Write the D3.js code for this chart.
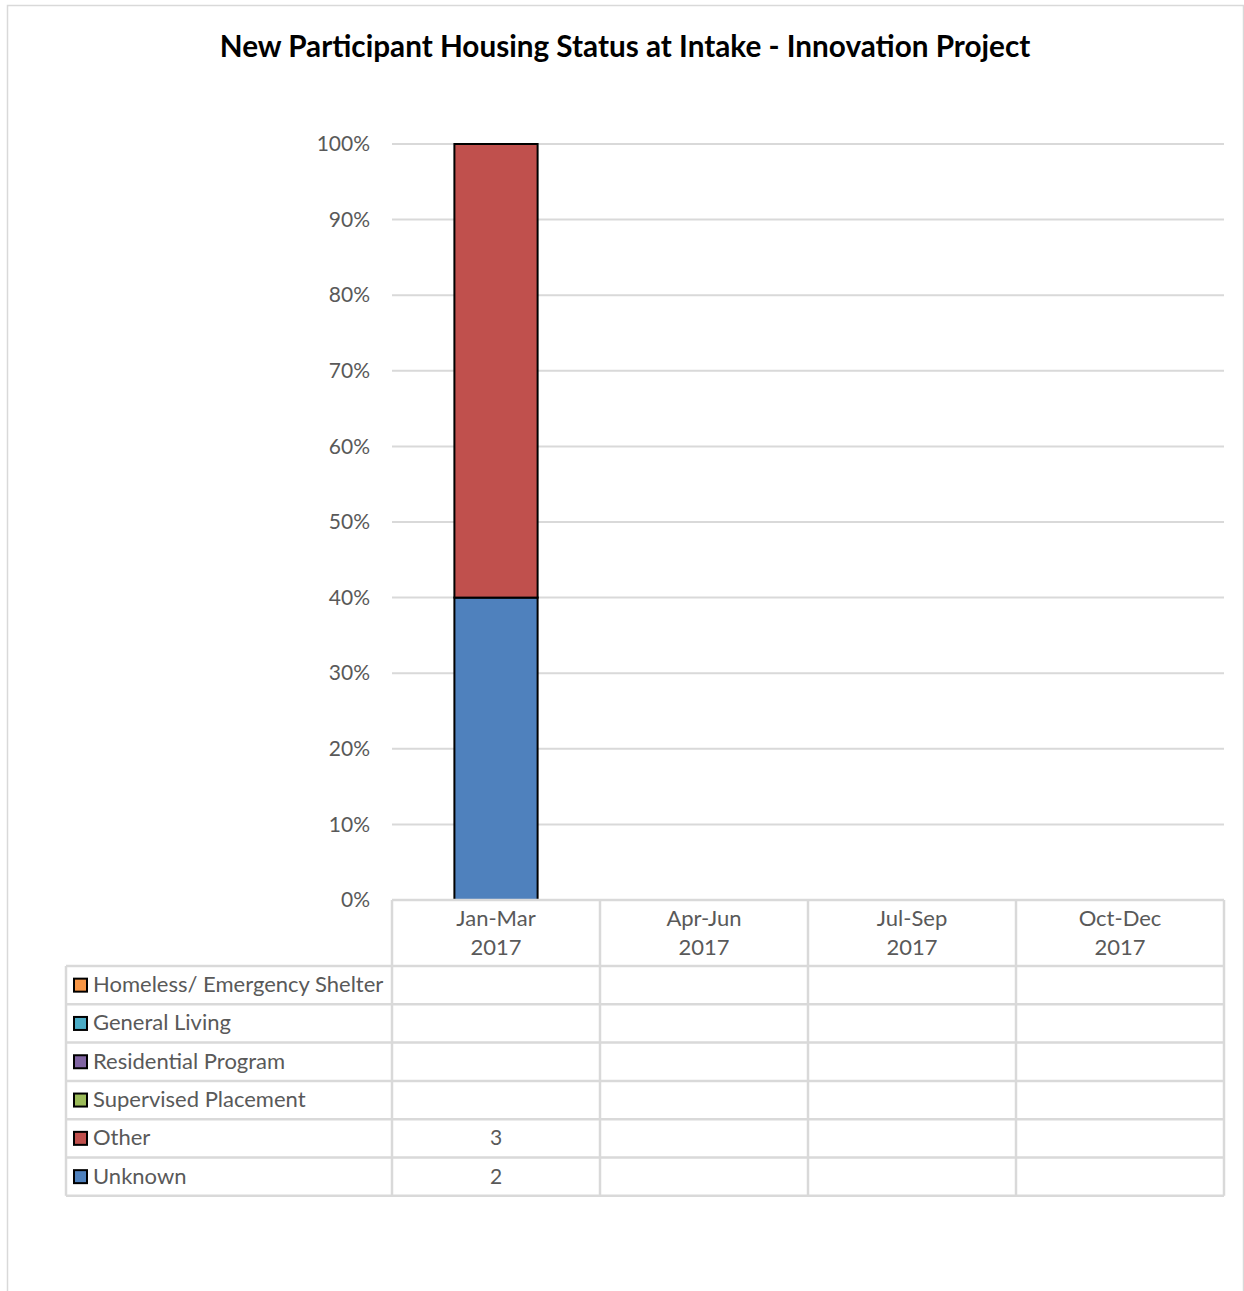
<!DOCTYPE html>
<html>
<head>
    <script src="https://cdn.jsdelivr.net/npm/d3@7"></script>
    <style>
        body { margin: 0; background: #fff; }
        svg { font-family: Lato, "Open Sans", sans-serif; }
    </style>
</head>
<body>
<svg width="1244" height="1291"></svg>
<script>
    // chart values
    const quarters = ["Jan-Mar 2017", "Apr-Jun 2017", "Jul-Sep 2017", "Oct-Dec 2017"];
    const seriesNames = ["Homeless/ Emergency Shelter", "General Living", "Residential Program", "Supervised Placement", "Other", "Unknown"];
    const seriesColors = ["#F79646", "#4BACC6", "#8064A2", "#9BBB59", "#C0504D", "#4F81BD"];
    const homeless = [null, null, null, null];
    const generalLiving = [null, null, null, null];
    const residential = [null, null, null, null];
    const supervised = [null, null, null, null];
    const other = [3, null, null, null];
    const unknown = [2, null, null, null];
    const yTicks = [0, 0.1, 0.2, 0.3, 0.4, 0.5, 0.6, 0.7, 0.8, 0.9, 1];

    const seriesValues = [homeless, generalLiving, residential, supervised, other, unknown];

    const svg = d3.select("svg");

    // outer frame
    svg.append("rect")
        .attr("x", 7.5).attr("y", 5.5)
        .attr("width", 1236).attr("height", 1300)
        .attr("fill", "none").attr("stroke", "#d9d9d9").attr("stroke-width", 1.5);

    svg.append("text")
        .attr("x", 625).attr("y", 57)
        .attr("text-anchor", "middle")
        .attr("font-size", 29.7).attr("font-weight", "bold")
        .attr("fill", "#000")
        .text("New Participant Housing Status at Intake - Innovation Project");

    const plotLeft = 392, plotRight = 1224, plotTop = 144, plotBottom = 900;

    const x = d3.scaleBand().domain(quarters).range([plotLeft, plotRight]).paddingInner(0).paddingOuter(0);
    const y = d3.scaleLinear().domain([0, 1]).range([plotBottom, plotTop]);

    // gridlines
    svg.append("g").selectAll("line")
        .data(yTicks.filter(d => d > 0))
        .join("line")
        .attr("x1", plotLeft).attr("x2", plotRight)
        .attr("y1", d => y(d)).attr("y2", d => y(d))
        .attr("stroke", "#d9d9d9").attr("stroke-width", 2);

    // y axis labels
    const yAxis = d3.axisLeft(y).tickValues(yTicks).tickFormat(d3.format(".0%")).tickSize(0).tickPadding(22);
    const yg = svg.append("g").attr("transform", `translate(${plotLeft},0)`).call(yAxis);
    yg.select(".domain").remove();
    yg.selectAll("text").attr("font-size", 21).attr("fill", "#595959").attr("font-family", "Lato, sans-serif");

    // stacked percent bars, Unknown at the bottom
    const rows = quarters.map((q, i) => {
        const r = { quarter: q };
        seriesNames.forEach((s, j) => r[s] = seriesValues[j][i] || 0);
        return r;
    });
    const stackOrder = seriesNames.slice().reverse();
    const stack = d3.stack().keys(stackOrder).offset(d3.stackOffsetExpand);
    const layers = stack(rows);
    const barW = x.bandwidth() * 0.4;

    layers.forEach(layer => {
        const color = seriesColors[seriesNames.indexOf(layer.key)];
        svg.append("g").selectAll("rect")
            .data(layer.filter(d => !isNaN(d[1]) && d[1] - d[0] > 0))
            .join("rect")
            .attr("x", d => x(d.data.quarter) + (x.bandwidth() - barW) / 2)
            .attr("width", barW)
            .attr("y", d => y(d[1]))
            .attr("height", d => y(d[0]) - y(d[1]))
            .attr("fill", color)
            .attr("stroke", "#000").attr("stroke-width", 2);
    });

    // data table
    const headerTop = 900, headerBottom = 966, rowH = 38.3, tableLeft = 66;
    const tableBottom = headerBottom + rowH * seriesNames.length;
    const grid = svg.append("g").attr("stroke", "#d9d9d9").attr("stroke-width", 2.5).attr("fill", "none");

    // header box lines
    grid.append("line").attr("x1", plotLeft).attr("x2", plotRight).attr("y1", headerTop).attr("y2", headerTop);
    quarters.forEach(q => {
        grid.append("line").attr("x1", x(q)).attr("x2", x(q)).attr("y1", headerTop).attr("y2", tableBottom);
    });
    grid.append("line").attr("x1", plotRight).attr("x2", plotRight).attr("y1", headerTop).attr("y2", tableBottom);
    grid.append("line").attr("x1", tableLeft).attr("x2", tableLeft).attr("y1", headerBottom).attr("y2", tableBottom);
    seriesNames.concat([""]).forEach((s, i) => {
        const yy = headerBottom + rowH * i;
        grid.append("line").attr("x1", tableLeft).attr("x2", plotRight).attr("y1", yy).attr("y2", yy);
    });

    // header labels
    quarters.forEach(q => {
        const parts = q.split(" ");
        const t = svg.append("text")
            .attr("text-anchor", "middle")
            .attr("font-size", 22).attr("fill", "#595959");
        t.append("tspan").attr("x", x(q) + x.bandwidth() / 2).attr("y", 926).text(parts[0]);
        t.append("tspan").attr("x", x(q) + x.bandwidth() / 2).attr("y", 955).text(parts[1]);
    });

    // legend rows and values
    seriesNames.forEach((s, i) => {
        const cy = headerBottom + rowH * i + rowH / 2;
        svg.append("rect")
            .attr("x", 74).attr("y", cy - 6.5).attr("width", 13).attr("height", 13)
            .attr("fill", seriesColors[i]).attr("stroke", "#000").attr("stroke-width", 2);
        svg.append("text")
            .attr("x", 93).attr("y", cy + 7)
            .attr("font-size", 22).attr("fill", "#595959")
            .text(s);
        quarters.forEach((q, k) => {
            const v = seriesValues[i][k];
            if (v == null) return;
            svg.append("text")
                .attr("x", x(q) + x.bandwidth() / 2).attr("y", cy + 7)
                .attr("text-anchor", "middle")
                .attr("font-size", 21).attr("fill", "#595959")
                .text(v);
        });
    });
</script>
</body>
</html>
